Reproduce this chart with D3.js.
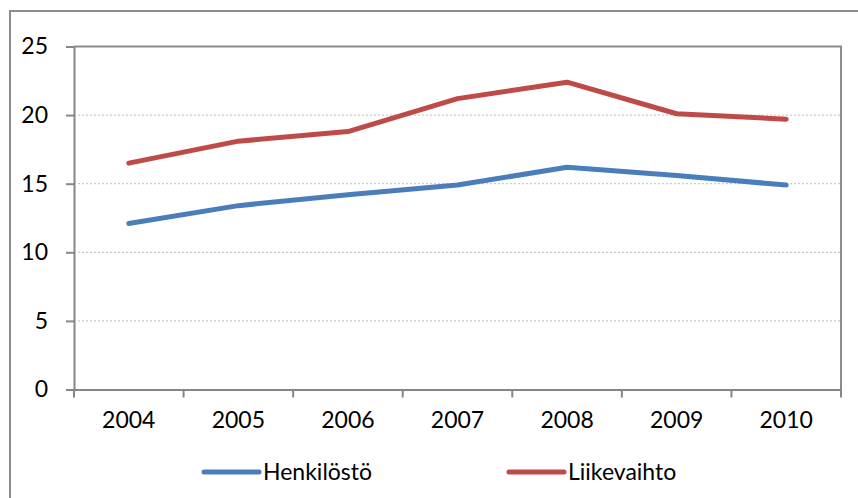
<!DOCTYPE html>
<html>
<head>
<meta charset="utf-8">
<script src="https://cdn.jsdelivr.net/npm/d3@7"></script>
<style>
  body { margin: 0; background: #fff; }
  text { font-family: Lato, "Open Sans", sans-serif; fill: #000; }
</style>
</head>
<body>
<div id="chart"></div>
<script>
var svgWidth = 858;
var svgHeight = 498;

// data
var years = ["2004", "2005", "2006", "2007", "2008", "2009", "2010"];
var henkilosto = [12.1, 13.4, 14.2, 14.9, 16.2, 15.6, 14.9];
var liikevaihto = [16.5, 18.1, 18.8, 21.2, 22.4, 20.1, 19.7];
var yTicks = [0, 5, 10, 15, 20, 25];
var seriesNames = ["Henkilöstö", "Liikevaihto"];
var colors = ["#4a7ebb", "#be4b48"];

var plot = { left: 74, right: 841, top: 46.5, bottom: 389.5 };

var svg = d3.select("#chart").append("svg")
  .attr("width", svgWidth)
  .attr("height", svgHeight);

// outer chart border (runs off the bottom/right)
svg.append("rect")
  .attr("x", 10).attr("y", 11)
  .attr("width", 900).attr("height", 600)
  .attr("fill", "none")
  .attr("stroke", "#8c8c8c")
  .attr("stroke-width", 2);

var x = d3.scaleBand().domain(years).range([plot.left, plot.right]);
var y = d3.scaleLinear().domain([0, 25]).range([plot.bottom, plot.top]);

// gridlines
svg.append("g").selectAll("line")
  .data(yTicks.filter(d => d > 0 && d < 25))
  .enter().append("line")
  .attr("x1", plot.left).attr("x2", plot.right)
  .attr("y1", d => y(d)).attr("y2", d => y(d))
  .attr("stroke", "#bfbfbf")
  .attr("stroke-dasharray", "2,2");

// plot area border top & right
svg.append("path")
  .attr("d", `M${plot.left},${y(25)}H${plot.right}V${plot.bottom}`)
  .attr("fill", "none")
  .attr("stroke", "#8c8c8c")
  .attr("stroke-width", 2);

// y axis
var yAxis = svg.append("g")
  .attr("transform", `translate(${plot.left},0)`)
  .call(d3.axisLeft(y).tickValues(yTicks).tickSize(8).tickPadding(10));
yAxis.select(".domain").attr("stroke", "#868686").attr("stroke-width", 2);
yAxis.selectAll(".tick line").attr("stroke", "#868686").attr("stroke-width", 2);
yAxis.selectAll("text").style("font-size", "23px").attr("x", -26);

// x axis
var xAxis = svg.append("g")
  .attr("transform", `translate(0,${plot.bottom})`)
  .call(d3.axisBottom(x).tickSize(0).tickPadding(22));
xAxis.select(".domain").attr("stroke", "#868686").attr("stroke-width", 2);
xAxis.selectAll("text").style("font-size", "23px");
// ticks between categories
xAxis.selectAll(".sep")
  .data(years.concat(["end"]))
  .enter().append("line")
  .attr("x1", (d, i) => plot.left + i * x.step())
  .attr("x2", (d, i) => plot.left + i * x.step())
  .attr("y1", 0).attr("y2", 8)
  .attr("stroke", "#868686")
  .attr("stroke-width", 2);

// lines
var line = d3.line()
  .x((d, i) => x(years[i]) + x.bandwidth() / 2)
  .y(d => y(d));

[henkilosto, liikevaihto].forEach(function (vals, i) {
  svg.append("path")
    .datum(vals)
    .attr("d", line)
    .attr("fill", "none")
    .attr("stroke", colors[i])
    .attr("stroke-width", 5)
    .attr("stroke-linejoin", "round")
    .attr("stroke-linecap", "round");
});

// legend
var legendX = [204, 509];
var legend = svg.append("g");
seriesNames.forEach(function (name, i) {
  legend.append("line")
    .attr("x1", legendX[i]).attr("x2", legendX[i] + 55)
    .attr("y1", 472).attr("y2", 472)
    .attr("stroke", colors[i])
    .attr("stroke-width", 5)
    .attr("stroke-linecap", "round");
  legend.append("text")
    .attr("x", legendX[i] + 59)
    .attr("y", 480)
    .style("font-size", "23px")
    .text(name);
});
</script>
</body>
</html>
